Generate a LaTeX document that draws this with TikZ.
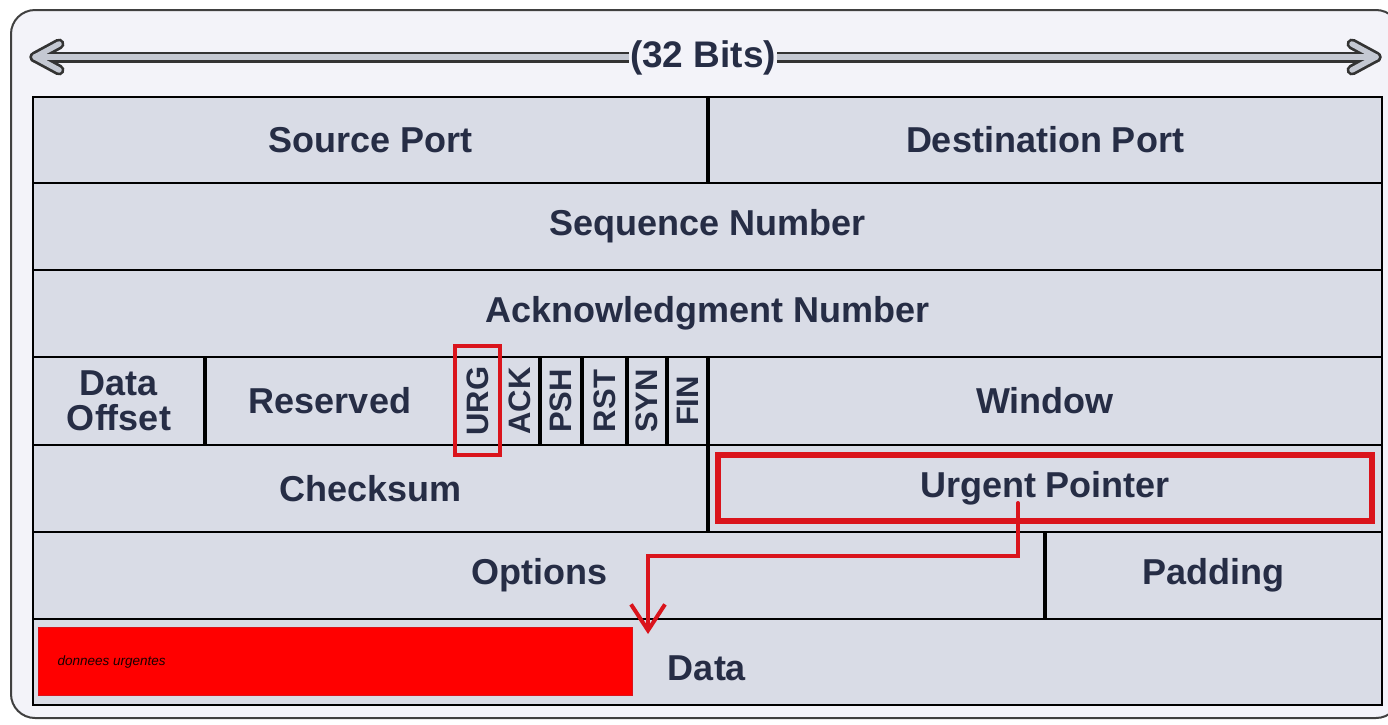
\documentclass[tikz,border=0pt]{standalone}
\usepackage{fontspec}
\setmainfont{Liberation Sans}
\usetikzlibrary{arrows.meta}

\definecolor{framebg}{HTML}{F3F3F9}
\definecolor{cellbg}{HTML}{D9DCE6}
\definecolor{ink}{HTML}{262D45}
\definecolor{mark}{HTML}{DA141C}
\definecolor{hot}{HTML}{FF0000}
\definecolor{shaft}{HTML}{C4C8D2}

\tikzset{
  field/.style={draw=black, line width=2.2pt, fill=cellbg, text=ink,
    inner sep=0pt, outer sep=0pt, align=center,
    font=\bfseries\fontsize{36}{35}\selectfont},
  flagcell/.style={field, font=\bfseries\fontsize{31}{31}\selectfont},
  divider/.style={draw=black, line width=3.8pt},
  highlight/.style={draw=mark, line width=#1},
  pointer/.style={draw=mark, line width=4pt, line cap=round,
    -{Straight Barb[length=26pt,width=34pt,line width=4pt]}},
  spanline/.style={line width=#1, line join=round, line cap=round},
}

% one header field: name, x1, y1, x2, y2, text
\newcommand\fieldcell[7][]{%
  \pgfmathsetmacro\fcx{(#3+#5)/2}\pgfmathsetmacro\fcy{(#4+#6)/2}%
  \pgfmathsetmacro\fcw{#5-#3}\pgfmathsetmacro\fch{#6-#4}%
  \node[field,#1,minimum width=\fcw pt,minimum height=\fch pt] (#2) at (\fcx,\fcy) {#7};}

\begin{document}
\begin{tikzpicture}[x=1pt,y=-1pt]
\useasboundingbox (0,0) rectangle (1388,724);
\fill[white] (0,0) rectangle (1388,724);
\begin{scope}
  \clip (0,0) rectangle (1388,724);
  \draw[rounded corners=24pt, line width=2pt, draw=black!75, fill=framebg]
    (11,10) rectangle (1400,718);
\end{scope}

% width indicator: outlined double-headed arrow
\coordinate (wl) at (35,57);
\coordinate (wr) at (1376,57);
\foreach \w/\c in {11pt/black!80, 5.5pt/shaft} {
  \draw[spanline=\w, draw=\c] (wl) -- (wr);
  \draw[spanline=\w, draw=\c] ([shift={(24,-13)}]wl) -- (wl) -- ([shift={(24,13)}]wl);
  \draw[spanline=\w, draw=\c] ([shift={(-24,-13)}]wr) -- (wr) -- ([shift={(-24,13)}]wr);
}
\node[fill=framebg, text=ink, inner sep=1pt, font=\bfseries\fontsize{37}{37}\selectfont]
  (bits) at (703,58) {(32 Bits)};

% header rows
\fieldcell{src}{33}{97}{708}{183}{Source Port}
\fieldcell{dst}{708}{97}{1382}{183}{Destination Port}
\fieldcell{seq}{33}{183}{1382}{270}{Sequence Number}
\fieldcell{ack}{33}{270}{1382}{357}{Acknowledgment Number}
\fieldcell{off}{33}{357}{205}{445}{Data\\Offset}
\fieldcell{res}{205}{357}{455}{445}{Reserved}
\fieldcell[flagcell]{furg}{455}{357}{500}{445}{\rotatebox{90}{URG}}
\fieldcell[flagcell]{fack}{500}{357}{540}{445}{\rotatebox{90}{ACK}}
\fieldcell[flagcell]{fpsh}{540}{357}{582}{445}{\rotatebox{90}{PSH}}
\fieldcell[flagcell]{frst}{582}{357}{627}{445}{\rotatebox{90}{RST}}
\fieldcell[flagcell]{fsyn}{627}{357}{667}{445}{\rotatebox{90}{SYN}}
\fieldcell[flagcell]{ffin}{667}{357}{708}{445}{\rotatebox{90}{FIN}}
\fieldcell{win}{708}{357}{1382}{445}{Window}
\fieldcell{chk}{33}{445}{708}{532}{Checksum}
\fieldcell{uptr}{708}{445}{1382}{532}{Urgent Pointer}
\fieldcell{opt}{33}{532}{1045}{619}{Options}
\fieldcell{pad}{1045}{532}{1382}{619}{Padding}
\fieldcell{data}{33}{619}{1382}{705}{}

% heavier vertical field boundaries
\foreach \n in {src,off,res,furg,fack,fpsh,frst,fsyn,ffin,chk,opt}
  \draw[divider] (\n.north east) -- (\n.south east);

% urgent bytes at the start of the payload
\node[fill=hot, draw=mark, line width=1pt, minimum width=594pt, minimum height=68pt,
      inner sep=0pt, anchor=north west] (urgdata) at (38,627) {};
\node[anchor=west, text=black!90!red, font=\itshape\fontsize{13.5}{13.5}\selectfont]
  (urglbl) at (54,662) {donnees urgentes};
\node[text=ink, font=\bfseries\fontsize{36}{36}\selectfont] (datalbl) at (707,668) {Data};

% highlights
\draw[highlight=4pt] (455,346) rectangle (500,455);
\draw[highlight=6pt] (718,455) rectangle (1372,521);

% pointer from the urgent pointer field to the end of urgent data
\coordinate (ptrs) at (1018,503);
\coordinate (ptrb) at (648,556);
\coordinate (ptre) at (648,634);
\draw[pointer] (ptrs) |- (ptrb) -- (ptre);
\end{tikzpicture}
\end{document}
